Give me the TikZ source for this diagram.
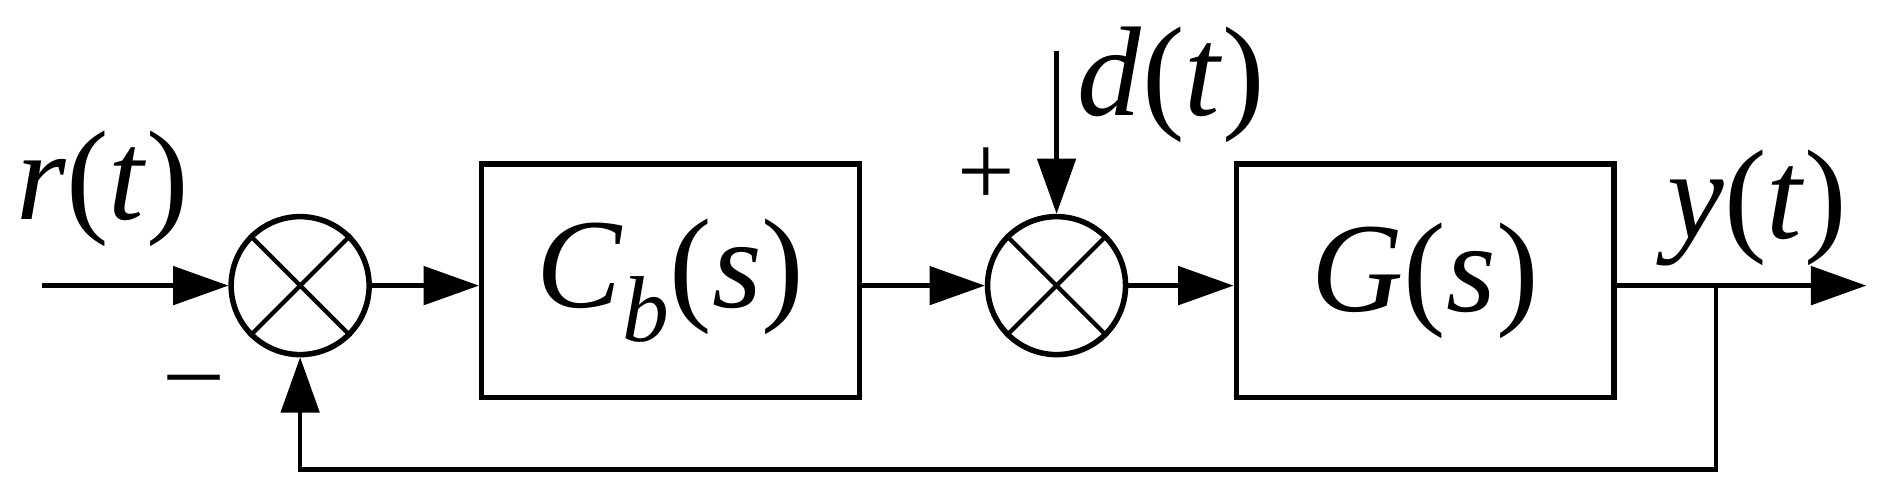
\documentclass[tikz,border=0pt]{standalone}
\usepackage{fontspec}
\setmainfont{Liberation Serif}[ItalicFont={Liberation Serif Italic}]
\usetikzlibrary{arrows.meta}
\newcommand{\iv}[1]{\textit{#1}}
\begin{document}
\begin{tikzpicture}[x=1cm,y=1cm,
  lw/.style={line width=1pt},
  arr/.style={lw,-{Triangle[length=13pt,width=9pt]}},
  blk/.style={draw,line width=1.3pt,minimum width=3.12cm,minimum height=1.93cm,inner sep=0pt,font=\fontsize{30}{34}\selectfont},
  sum/.style={draw,line width=1.3pt,circle,minimum size=1.14cm,inner sep=0pt},
  lab/.style={font=\fontsize{30}{34}\selectfont}]
\useasboundingbox (0,0) rectangle (15.6,4.16);
\node[sum] (s1) at (2.48,1.80) {};
\node[sum] (s2) at (8.73,1.80) {};
\node[blk] (c) at (5.54,1.84) {\iv{C}\raisebox{-8pt}{\fontsize{22}{24}\selectfont\iv{b}}(\iv{s})};
\node[blk] (g) at (11.775,1.84) {\iv{G}(\iv{s})};
\foreach \s in {s1,s2}{
  \draw[lw] (\s.45) -- (\s.225); \draw[lw] (\s.135) -- (\s.-45);}
\coordinate (in) at (0.35,1.80);
\coordinate (out) at (15.42,1.80);
\coordinate (br) at (14.18,1.80);
\coordinate (fb) at (14.18,0.28);
\coordinate (fb2) at (2.48,0.28);
\coordinate (dt) at (8.73,3.74);
\draw[arr] (in) -- (s1.west);
\draw[arr] (s1.east) -- (c.west |- s1.east);
\draw[arr] (c.east |- s2.west) -- (s2.west);
\draw[arr] (s2.east) -- (g.west |- s2.east);
\draw[arr] (g.east |- s2.east) -- (out);
\draw[arr] (br) -- (fb) -- (fb2) -- (s1.south);
\draw[arr] (dt) -- (s2.north);
\node[lab] (r) at (0.85,2.60) {\iv{r}(\iv{t})};
\node[lab] (d) at (9.68,3.46) {\iv{d}(\iv{t})};
\node[lab] (y) at (14.52,2.44) {\iv{y}(\iv{t})};
\node[font=\fontsize{24}{28}\selectfont] (p) at (8.15,2.70) {+};
\node[font=\fontsize{24}{28}\selectfont] (m) at (1.60,0.95) {–};
\end{tikzpicture}
\end{document}
